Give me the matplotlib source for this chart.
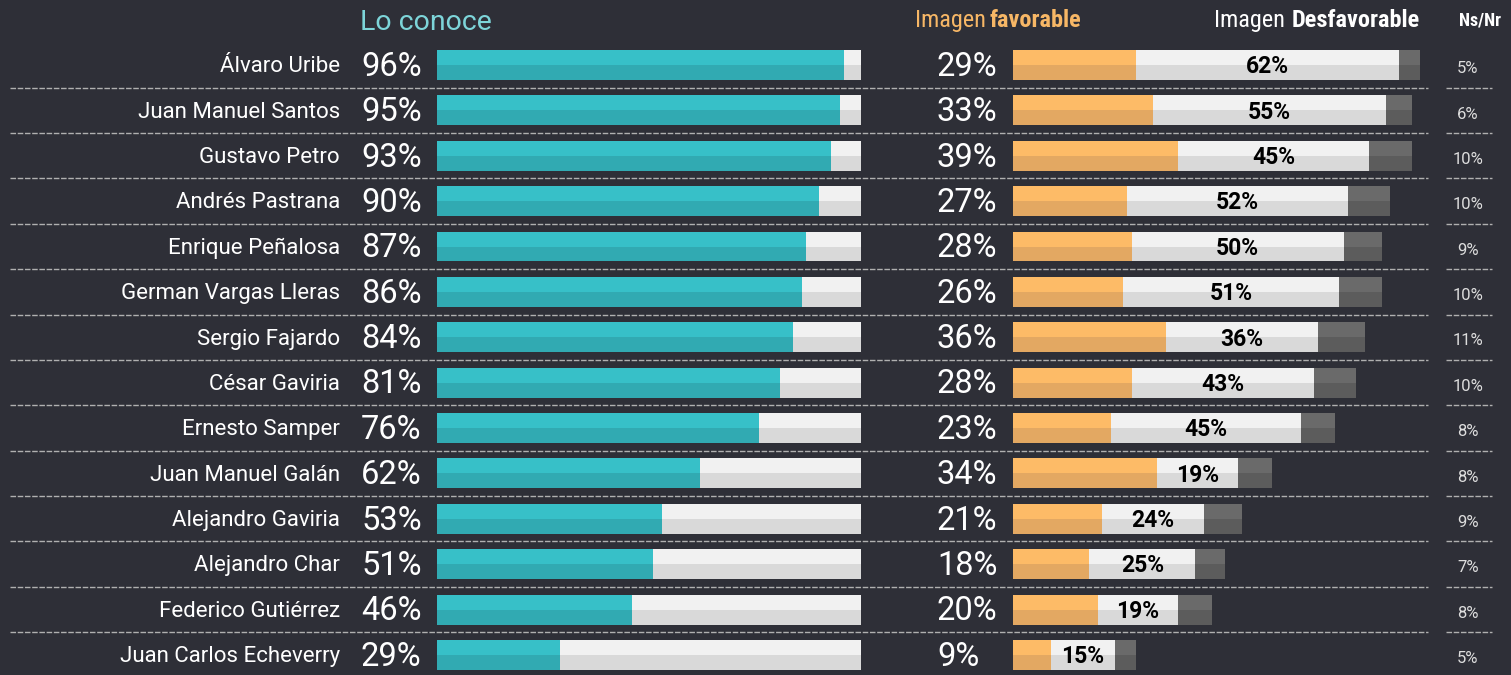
import matplotlib
matplotlib.use("Agg")
import matplotlib.pyplot as plt
from matplotlib import font_manager

# data
names = ['Álvaro Uribe', 'Juan Manuel Santos', 'Gustavo Petro', 'Andrés Pastrana',
         'Enrique Peñalosa', 'German Vargas Lleras', 'Sergio Fajardo', 'César Gaviria',
         'Ernesto Samper', 'Juan Manuel Galán', 'Alejandro Gaviria', 'Alejandro Char',
         'Federico Gutiérrez', 'Juan Carlos Echeverry']
conoce = [96, 95, 93, 90, 87, 86, 84, 81, 76, 62, 53, 51, 46, 29]
favorable = [29, 33, 39, 27, 28, 26, 36, 28, 23, 34, 21, 18, 20, 9]
desfavorable = [62, 55, 45, 52, 50, 51, 36, 43, 45, 19, 24, 25, 19, 15]
nsnr = [5, 6, 10, 10, 9, 10, 11, 10, 8, 8, 9, 7, 8, 5]

BG = '#2e2f37'
TEAL = ('#37c0c8', '#31aab2')
GREY = ('#f1f1f1', '#d9d9d9')
ORANGE = ('#fdbb67', '#e3a862')
DARK = ('#6a6a6a', '#5c5c5c')

W, H = 1511, 675
ROW0, STEP = 65, 45.38          # pixel centre of first row, row spacing
BAR_H = 0.66

installed = {f.name for f in font_manager.fontManager.ttflist}
MAIN = ['Roboto', 'DejaVu Sans']
NARROW = [f for f in ['Liberation Sans Narrow', 'Roboto Condensed', 'DejaVu Sans Condensed']
          if f in installed] + MAIN


def row_limits():
    return (H - ROW0) / STEP, -ROW0 / STEP


def two_tone(ax, y, width, left, colors):
    """bar in the darker tone, upper half overlaid with the lighter tone"""
    ax.barh(y, width, left=left, height=BAR_H, color=colors[1], linewidth=0)
    ax.barh([v - BAR_H / 4 for v in y], width, left=left, height=BAR_H / 2,
            color=colors[0], linewidth=0)


def bar_axes(fig, x_px):
    ax = fig.add_axes([x_px / W, 0, 424 / W, 1])
    ax.set_xlim(0, 100)
    ax.set_ylim(*row_limits())
    ax.axis('off')
    return ax


fig = plt.figure(figsize=(W / 100, H / 100), dpi=100, facecolor=BG)
txt = fig.add_axes([0, 0, 1, 1])
txt.set_xlim(0, W)
txt.set_ylim(*row_limits())
txt.axis('off')
txt.set_facecolor(BG)

rows = list(range(len(names)))
n = len(rows)

# left panel: lo conoce
axL = bar_axes(fig, 437)
two_tone(axL, rows, [100] * n, 0, GREY)
two_tone(axL, rows, conoce, 0, TEAL)

# right panel: favorable / desfavorable / ns-nr
axR = bar_axes(fig, 1013)
two_tone(axR, rows, favorable, 0, ORANGE)
two_tone(axR, rows, desfavorable, favorable, GREY)
left_ns = [f + d for f, d in zip(favorable, desfavorable)]
two_tone(axR, rows, nsnr, left_ns, DARK)

for i in rows:
    y = i + 0.04
    txt.text(340, y, names[i], ha='right', va='center', color='white',
             fontsize=16, family=MAIN)
    txt.text(361, y, f'{conoce[i]}%', ha='left', va='center', color='white',
             fontsize=23.5, family=MAIN)
    txt.text(937, y, f'{favorable[i]}%', ha='left', va='center', color='white',
             fontsize=23.5, family=MAIN)
    axR.text(favorable[i] + desfavorable[i] / 2, y, f'{desfavorable[i]}%', ha='center',
             va='center', color='black', fontsize=16.5, fontweight='bold', family=MAIN)
    txt.text(1468, i + 0.08, f'{nsnr[i]}%', ha='center', va='center', color='#dddddd',
             fontsize=12, family=MAIN)
    if i < n - 1:
        txt.plot([10, 1428], [i + 0.5, i + 0.5], color='#b0b0b0', lw=1,
                 dashes=(4, 1.2))
        txt.plot([1446, 1492], [i + 0.5, i + 0.5], color='#b0b0b0', lw=1,
                 dashes=(4, 1.2))

# headers
hy = (22 - ROW0) / STEP
txt.text(360, hy, 'Lo conoce', ha='left', va='center', color='#7dd5d9',
         fontsize=20.5, family=MAIN)
txt.text(986, hy - 0.03, 'Imagen', ha='right', va='center', color='#f7b766',
         fontsize=17.5, family=NARROW)
txt.text(990, hy - 0.03, 'favorable', ha='left', va='center', color='#f7b766',
         fontsize=17.5, fontweight='bold', family=NARROW)
txt.text(1285, hy - 0.03, 'Imagen', ha='right', va='center', color='white',
         fontsize=17.5, family=NARROW)
txt.text(1292, hy - 0.03, 'Desfavorable', ha='left', va='center', color='white',
         fontsize=17.5, fontweight='bold', family=NARROW)
txt.text(1459, hy - 0.03, 'Ns/Nr', ha='left', va='center', color='white',
         fontsize=13, fontweight='bold', family=NARROW)

fig.savefig('out.png', dpi=100, facecolor=BG)
